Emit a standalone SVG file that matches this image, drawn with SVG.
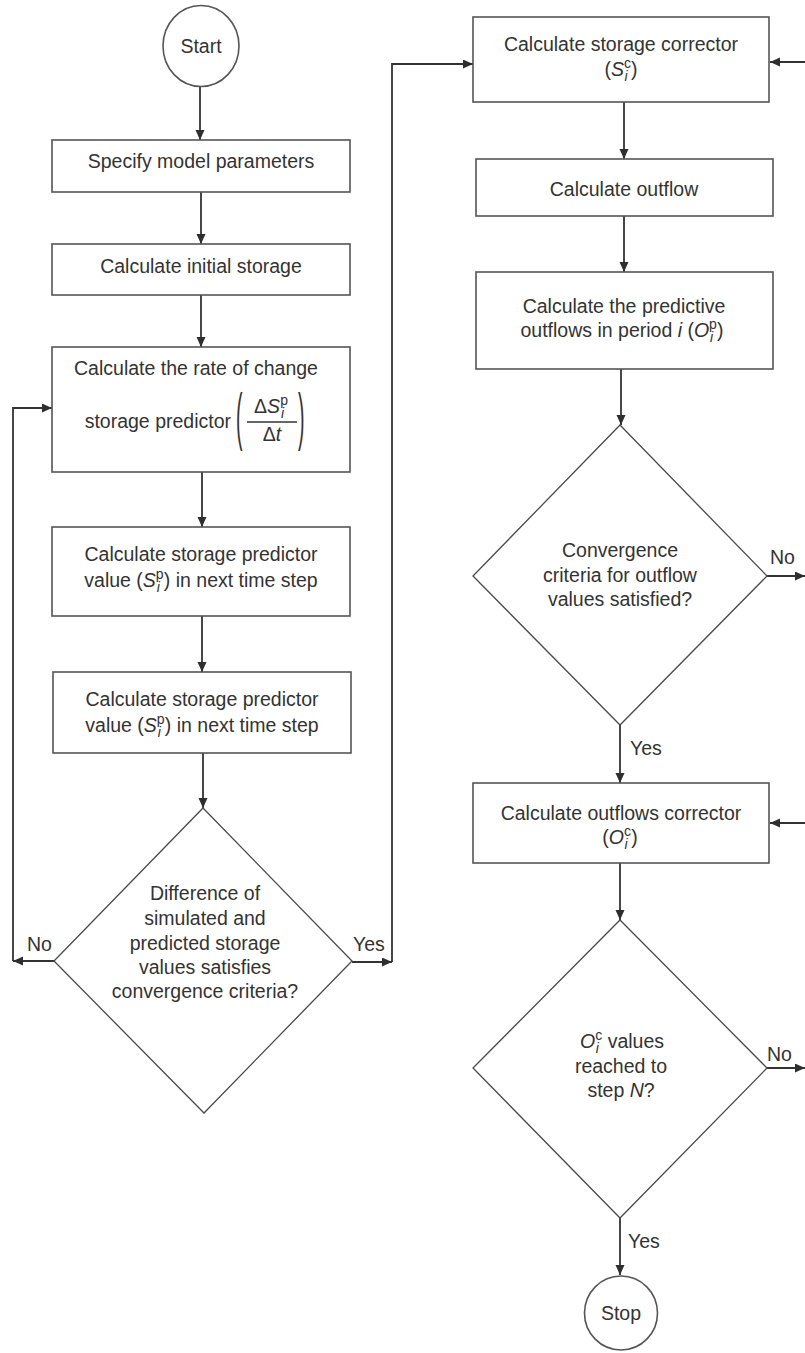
<svg xmlns="http://www.w3.org/2000/svg" width="805" height="1353" viewBox="0 0 805 1353">
<defs>
<marker id="ah" markerUnits="userSpaceOnUse" markerWidth="11" markerHeight="10" refX="10" refY="4.5" orient="auto">
<path d="M0,0 L10,4.5 L0,9 z" fill="#2e2e2e"/>
</marker>
</defs>
<style>
.box{fill:#fff;stroke:#555;stroke-width:1.6}
.dia{fill:#fff;stroke:#4a4a4a;stroke-width:1.3}
.t{font-family:"Liberation Sans",Arial,sans-serif;font-size:19.5px;fill:#333;text-anchor:middle}
.l{font-family:"Liberation Sans",Arial,sans-serif;font-size:19.5px;fill:#333}
.s{font-size:14px}
.it{font-style:italic}
.c{fill:none;stroke:#333;stroke-width:1.8}
</style>
<rect width="805" height="1353" fill="#fff"/>

<g id="connectors">
<path class="c" d="M200,87 V140" marker-end="url(#ah)"/>
<path class="c" d="M201,192 V244" marker-end="url(#ah)"/>
<path class="c" d="M201,295 V347" marker-end="url(#ah)"/>
<path class="c" d="M202,472 V527" marker-end="url(#ah)"/>
<path class="c" d="M202,616 V672" marker-end="url(#ah)"/>
<path class="c" d="M203,753 V808" marker-end="url(#ah)"/>
<path class="c" d="M54,961 H13" marker-end="url(#ah)"/>
<path class="c" d="M13,961 V408 H52" marker-end="url(#ah)"/>
<path class="c" d="M352,962 H392" marker-end="url(#ah)"/>
<path class="c" d="M392,962 V64 H473" marker-end="url(#ah)"/>
<path class="c" d="M805,62 H770" marker-end="url(#ah)"/>
<path class="c" d="M624,102 V159" marker-end="url(#ah)"/>
<path class="c" d="M624,216 V272" marker-end="url(#ah)"/>
<path class="c" d="M621,369 V425" marker-end="url(#ah)"/>
<path class="c" d="M767,576 H805" marker-end="url(#ah)"/>
<path class="c" d="M620,725 V783" marker-end="url(#ah)"/>
<path class="c" d="M805,823 H770" marker-end="url(#ah)"/>
<path class="c" d="M620,863 V920" marker-end="url(#ah)"/>
<path class="c" d="M767,1068 H805" marker-end="url(#ah)"/>
<path class="c" d="M620,1218 V1275" marker-end="url(#ah)"/>
<text class="l" x="27" y="951">No</text>
<text class="l" x="353" y="951">Yes</text>
<text class="l" x="770" y="564">No</text>
<text class="l" x="630" y="755">Yes</text>
<text class="l" x="767" y="1061">No</text>
<text class="l" x="628" y="1248">Yes</text>
</g>

<g id="start">
<ellipse cx="201" cy="46" rx="38" ry="40.5" fill="#fff" stroke="#555" stroke-width="1.6"/>
<text class="t" x="201" y="53">Start</text>
</g>

<g id="specify">
<rect class="box" x="52" y="140" width="298" height="52"/>
<text class="t" x="201" y="168">Specify model parameters</text>
</g>

<g id="initial">
<rect class="box" x="52" y="244" width="298" height="51"/>
<text class="t" x="201" y="273">Calculate initial storage</text>
</g>

<g id="rate">
<rect class="box" x="52" y="347" width="298" height="125"/>
<text class="t" x="196" y="375">Calculate the rate of change</text>
<text class="l" x="231" y="428" text-anchor="end">storage predictor</text>
<text class="l" transform="translate(236,438) scale(1,3.2)" font-size="22">(</text>
<text class="l" transform="translate(298,438) scale(1,3.2)" font-size="22">)</text>
<text class="t" x="271" y="413">Δ<tspan class="it">S</tspan><tspan class="s" dy="-8">p</tspan><tspan class="s it" dx="-7" dy="13">i</tspan><tspan dx="4" dy="-5"></tspan></text>
<line x1="247" y1="422" x2="297" y2="422" stroke="#333" stroke-width="1.3"/>
<text class="t" x="272" y="441">Δ<tspan class="it">t</tspan></text>
</g>

<g id="predictor1">
<rect class="box" x="52" y="527" width="298" height="89"/>
<text class="t" x="201" y="561">Calculate storage predictor</text>
<text class="t" x="201" y="587">value (<tspan class="it">S</tspan><tspan class="s" dy="-8">p</tspan><tspan class="s it" dx="-7" dy="13">i</tspan><tspan dx="4" dy="-5">) in next time step</tspan></text>
</g>

<g id="predictor2">
<rect class="box" x="53" y="672" width="298" height="81"/>
<text class="t" x="202" y="706">Calculate storage predictor</text>
<text class="t" x="202" y="732">value (<tspan class="it">S</tspan><tspan class="s" dy="-8">p</tspan><tspan class="s it" dx="-7" dy="13">i</tspan><tspan dx="4" dy="-5">) in next time step</tspan></text>
</g>

<g id="decision1">
<polygon class="dia" points="203,808 352,961 204,1113 54,961"/>
<text class="t" x="205" y="900">Difference of</text>
<text class="t" x="205" y="925">simulated and</text>
<text class="t" x="205" y="950">predicted storage</text>
<text class="t" x="205" y="974">values satisfies</text>
<text class="t" x="205" y="998">convergence criteria?</text>
</g>

<g id="storage-corrector">
<rect class="box" x="473" y="17" width="296" height="85"/>
<text class="t" x="621" y="51">Calculate storage corrector</text>
<text class="t" x="621" y="76">(<tspan class="it">S</tspan><tspan class="s" dy="-8">c</tspan><tspan class="s it" dx="-6.5" dy="13">i</tspan><tspan dx="3.5" dy="-5">)</tspan></text>
</g>

<g id="outflow">
<rect class="box" x="476" y="159" width="297" height="57"/>
<text class="t" x="624" y="196">Calculate outflow</text>
</g>

<g id="predictive-outflows">
<rect class="box" x="476" y="272" width="297" height="97"/>
<text class="t" x="624" y="313">Calculate the predictive</text>
<text class="t" x="622" y="337">outflows in period <tspan class="it">i</tspan> (<tspan class="it">O</tspan><tspan class="s" dy="-8">p</tspan><tspan class="s it" dx="-7" dy="13">i</tspan><tspan dx="4" dy="-5">)</tspan></text>
</g>

<g id="decision2">
<polygon class="dia" points="620,425 767,576 620,725 473,576"/>
<text class="t" x="620" y="557">Convergence</text>
<text class="t" x="620" y="582">criteria for outflow</text>
<text class="t" x="620" y="606">values satisfied?</text>
</g>

<g id="outflows-corrector">
<rect class="box" x="473" y="783" width="296" height="80"/>
<text class="t" x="621" y="820">Calculate outflows corrector</text>
<text class="t" x="620" y="844">(<tspan class="it">O</tspan><tspan class="s" dy="-8">c</tspan><tspan class="s it" dx="-6.5" dy="13">i</tspan><tspan dx="3.5" dy="-5">)</tspan></text>
</g>

<g id="decision3">
<polygon class="dia" points="620,920 767,1068 620,1218 473,1068"/>
<text class="t" x="622" y="1048"><tspan class="it">O</tspan><tspan class="s" dy="-8">c</tspan><tspan class="s it" dx="-6.5" dy="13">i</tspan><tspan dx="3.5" dy="-5"> values</tspan></text>
<text class="t" x="621" y="1073">reached to</text>
<text class="t" x="621" y="1097">step <tspan class="it">N</tspan>?</text>
</g>

<g id="stop">
<ellipse cx="621" cy="1313" rx="36.5" ry="37" fill="#fff" stroke="#555" stroke-width="1.6"/>
<text class="t" x="621" y="1320">Stop</text>
</g>
</svg>
